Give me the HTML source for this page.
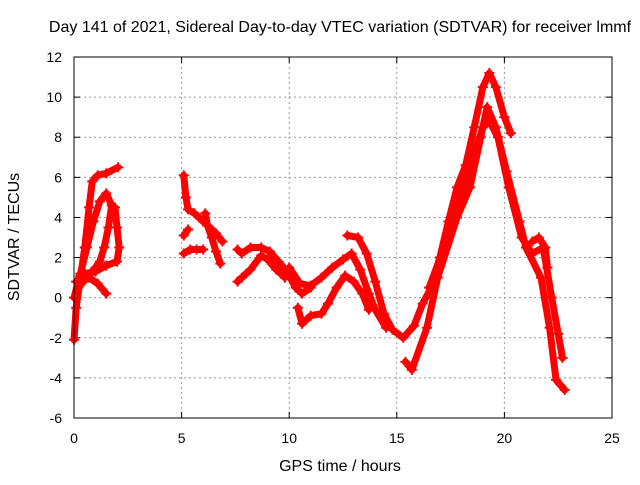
<!DOCTYPE html>
<html><head><meta charset="utf-8"><style>
body{margin:0;background:#fff}
svg{font-family:"Liberation Sans",sans-serif;font-size:14px}
</style></head><body>
<svg id="chart" width="640" height="480">
<text x="340" y="32" text-anchor="middle" font-size="16">Day 141 of 2021, Sidereal Day-to-day VTEC variation (SDTVAR) for receiver lmmf</text>
<text x="340" y="471" text-anchor="middle" font-size="16">GPS time / hours</text>
<text x="19" y="237" text-anchor="middle" font-size="16" transform="rotate(-90 19 237)">SDTVAR / TECUs</text>
<g id="grid"></g><g id="ticks"></g><g id="series"></g>
<rect x="74" y="57" width="538" height="361" fill="none" stroke="#000" stroke-width="1"/>
</svg>
<script>
const xTicks=[0,5,10,15,20,25];
const yTicks=[-6,-4,-2,0,2,4,6,8,10,12];
const trackA=[[0,-2.1],[0.1,-0.5],[0.3,1.0],[0.5,2.5],[0.7,4.5],[0.85,5.8],[1.1,6.1],[1.5,6.2],[2.05,6.5]];
const trackB=[[0,0],[0.3,1.2],[0.6,2.5],[0.9,3.8],[1.2,4.8],[1.5,5.2],[1.75,4.6],[1.6,3.5],[1.4,2.5],[1.2,1.8],[1.0,1.5],[0.6,1.0],[0.2,0.5]];
const trackC=[[0.1,0.8],[0.5,1.2],[1.0,1.3],[1.5,1.6],[2.0,1.8],[2.1,2.5],[2.0,3.5],[1.9,4.5]];
const trackD=[[0.3,1.1],[0.7,1.0],[1.1,0.7],[1.5,0.2]];
const trackE=[[5.1,6.1],[5.2,5.0],[5.3,4.4],[5.6,4.2],[6.0,3.8],[6.3,3.5],[6.6,3.2],[6.9,2.8]];
const trackF=[[6.1,4.2],[6.2,3.6],[6.4,3.0],[6.6,2.3],[6.8,1.7]];
const trackG=[[5.1,2.2],[5.4,2.4],[5.7,2.4],[6.0,2.4]];
const trackH=[[5.1,3.1],[5.3,3.4]];
const trackI=[[7.6,2.4],[7.8,2.2],[8.2,2.5],[8.7,2.5],[9.1,2.3],[9.5,1.8],[9.9,1.3],[10.3,0.5],[10.6,0.2],[11.0,0.5]];
const trackJ=[[7.6,0.8],[7.8,1.0],[8.2,1.4],[8.7,2.1],[9.0,1.9],[9.4,1.4],[9.8,1.0]];
const trackK=[[12.7,3.1],[13.2,3.0],[13.6,2.2],[14.0,0.8],[14.4,-0.8],[14.8,-1.6],[15.3,-2.0],[15.8,-1.4],[16.2,-0.3],[16.6,0.5],[17.0,2.0],[17.4,3.8],[17.8,5.5],[18.2,6.6],[18.6,8.5],[19.0,10.5],[19.3,11.2],[19.6,10.5],[20.0,9.0],[20.3,8.2]];
const trackL=[[10.0,1.5],[10.5,0.7],[11.0,0.6],[11.5,1.0],[12.0,1.5],[12.5,1.9],[12.9,2.2],[13.3,1.4],[13.7,0.2],[14.0,-0.6],[14.5,-1.5]];
const trackM=[[10.4,-0.5],[10.6,-1.3],[11.0,-0.9],[11.5,-0.8],[11.8,-0.3],[12.2,0.5],[12.6,1.1],[13.0,0.8],[13.4,0.2],[13.7,-0.6]];
const trackN=[[15.4,-3.2],[15.7,-3.6],[16.4,-1.5],[16.9,1.0],[17.8,4.0],[18.4,5.5],[18.9,8.0],[19.2,9.5],[19.6,8.5],[20.1,6.3],[20.7,3.8],[21.0,2.5],[21.7,1.0],[22.1,-1.5],[22.4,-4.1],[22.8,-4.6]];
const trackO=[[16.5,0.5],[17.2,2.5],[17.8,4.5],[18.4,6.5],[19.0,8.5],[19.3,8.8],[19.7,8.0],[20.2,5.5],[20.8,3.0],[21.3,2.2],[21.8,2.5],[22.2,0.0],[22.5,-1.8],[22.7,-3.0]];
const trackP=[[21.3,2.8],[21.6,3.0],[21.9,2.5],[22.0,1.5]];
const tracks=[trackA,trackB,trackC,trackD,trackE,trackF,trackG,trackH,trackI,trackJ,trackK,trackL,trackM,trackN,trackO,trackP];
const NS='http://www.w3.org/2000/svg';
const X=t=>74+t*538/25, Y=v=>418-(v+6)*361/18;
const grid=document.getElementById('grid'),ticks=document.getElementById('ticks'),ser=document.getElementById('series');
function mk(tag,at,parent){const e=document.createElementNS(NS,tag);for(const k in at)e.setAttribute(k,at[k]);parent.appendChild(e);return e;}
xTicks.forEach(t=>{const x=X(t);
 if(t>0&&t<25){const g=mk('line',{x1:x,y1:57,x2:x,y2:418,stroke:'#999','stroke-dasharray':'2,3'},grid);
 
 }
 mk('line',{x1:x,y1:418,x2:x,y2:412,stroke:'#000'},ticks);mk('line',{x1:x,y1:57,x2:x,y2:63,stroke:'#000'},ticks);
 const l=mk('text',{x:x,y:443,'text-anchor':'middle'},ticks);l.textContent=t;
 
 });
yTicks.forEach(v=>{const y=Y(v);
 if(v>-6&&v<12){const g=mk('line',{x1:74,y1:y,x2:612,y2:y,stroke:'#999','stroke-dasharray':'2,3'},grid);
 
 }
 mk('line',{x1:74,y1:y,x2:80,y2:y,stroke:'#000'},ticks);mk('line',{x1:612,y1:y,x2:606,y2:y,stroke:'#000'},ticks);
 const l=mk('text',{x:62,y:y+5,'text-anchor':'end'},ticks);l.textContent=v;
 
 });
tracks.forEach((tr,i)=>{
 const p=mk('polyline',{points:tr.map(d=>X(d[0])+','+Y(d[1])).join(' '),fill:'none',stroke:'#f00','stroke-width':7,'stroke-linejoin':'round','stroke-linecap':'round'},ser);
 
 
 tr.forEach(d=>{const x=X(d[0]),y=Y(d[1]);
  const m=mk('path',{d:`M${x-5},${y}H${x+5}M${x},${y-5}V${y+5}`,stroke:'#f00','stroke-width':2},ser);
  
  });
});
</script>
</body></html>
